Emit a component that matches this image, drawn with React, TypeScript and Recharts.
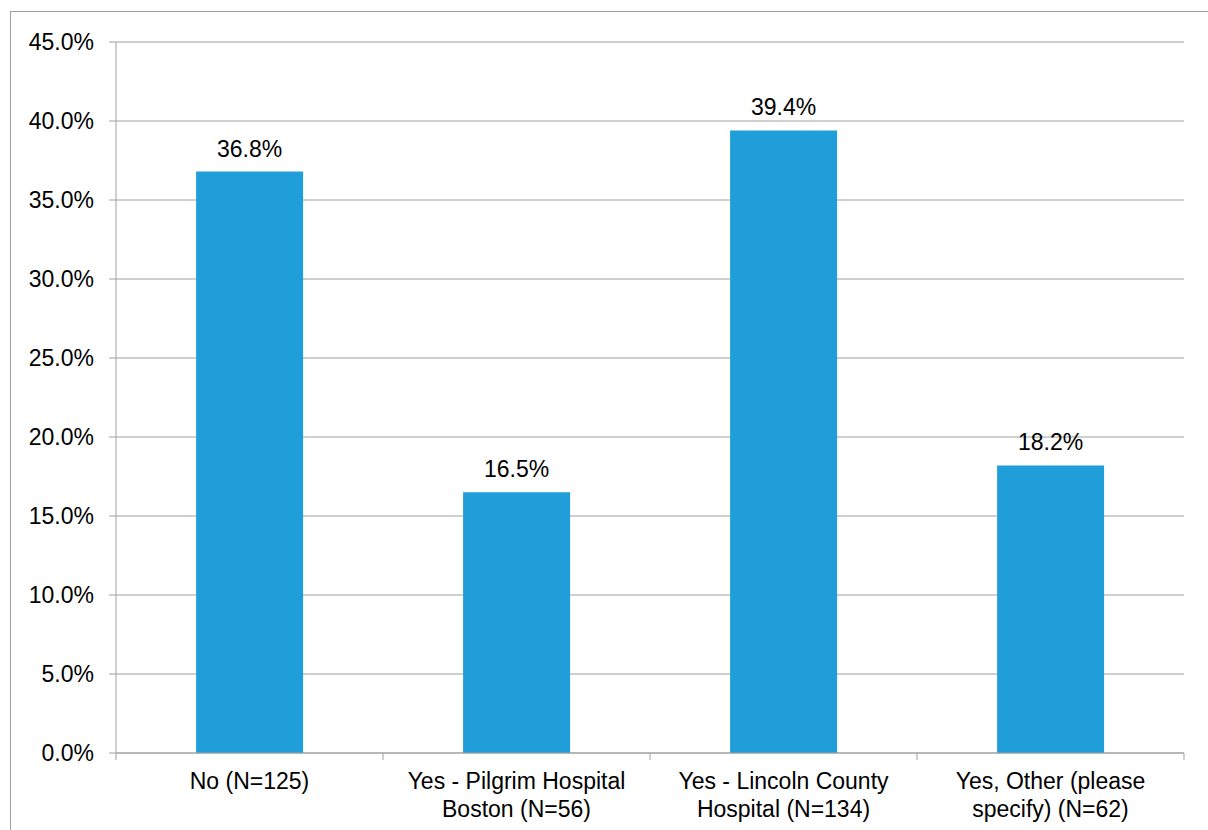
import React from 'react';
import { BarChart, Bar, XAxis, YAxis, CartesianGrid, LabelList } from 'recharts';

const categories = [
  'No (N=125)',
  'Yes - Pilgrim Hospital\nBoston (N=56)',
  'Yes - Lincoln County\nHospital (N=134)',
  'Yes, Other (please\nspecify) (N=62)',
];
const values = [36.8, 16.5, 39.4, 18.2];
const yTicks = [0, 5, 10, 15, 20, 25, 30, 35, 40, 45];

const data = categories.map((c, i) => ({ name: c, value: values[i] }));

const AXIS = '#a0a0a0';
const BAR = '#1f9ed9';
const FONT = '"Liberation Sans", Arial, sans-serif';

const CategoryTick = (props: any) => {
  const { x, y, payload, index } = props;
  const half =
    payload && typeof payload.offset === 'number' && payload.offset > 0 ? payload.offset : 133.5;
  const lines = String(payload.value).split('\n');
  const axisY = y - 7;
  return (
    <g>
      <line x1={x - half} x2={x - half} y1={axisY} y2={axisY + 7} stroke={AXIS} strokeWidth={1} />
      {index === categories.length - 1 && (
        <line x1={x + half} x2={x + half} y1={axisY} y2={axisY + 7} stroke={AXIS} strokeWidth={1} />
      )}
      <text x={x} textAnchor="middle" fontSize={23} fill="#000" fontFamily={FONT}>
        {lines.map((l, i) => (
          <tspan key={i} x={x} y={axisY + 36 + i * 28}>
            {l}
          </tspan>
        ))}
      </text>
    </g>
  );
};

export default function App() {
  return (
    <div style={{ position: 'relative', width: 1208, height: 830, overflow: 'hidden', fontFamily: FONT }}>
      <style>{'body{margin:0;overflow:hidden}'}</style>
      <div
        style={{
          position: 'absolute',
          left: 10,
          top: 11,
          width: 1300,
          height: 900,
          borderTop: `1px solid ${AXIS}`,
          borderLeft: `1px solid ${AXIS}`,
          boxSizing: 'border-box',
        }}
      />
      <div style={{ position: 'absolute', left: 0, top: 0 }}>
        <BarChart
          width={1208}
          height={830}
          data={data}
          margin={{ top: 42, right: 24, left: 0, bottom: 17 }}
          barCategoryGap="30%"
          style={{ fontFamily: FONT }}
        >
          <CartesianGrid vertical={false} stroke={AXIS} strokeWidth={1} />
          <XAxis
            dataKey="name"
            height={60}
            axisLine={{ stroke: AXIS, strokeWidth: 1 }}
            tickLine={false}
            tickSize={7}
            tickMargin={0}
            interval={0}
            tick={<CategoryTick />}
          />
          <YAxis
            width={116}
            domain={[0, 45]}
            ticks={yTicks}
            interval={0}
            tickFormatter={(v: number) => v.toFixed(1) + '%'}
            axisLine={{ stroke: AXIS, strokeWidth: 1 }}
            tickLine={{ stroke: AXIS, strokeWidth: 1 }}
            tickSize={7}
            tickMargin={15}
            tick={{ fill: '#000', fontSize: 23, fontFamily: FONT }}
          />
          <Bar dataKey="value" fill={BAR} isAnimationActive={false}>
            <LabelList
              dataKey="value"
              position="top"
              offset={15}
              formatter={(v: any) => Number(v).toFixed(1) + '%'}
              style={{ fill: '#000', fontSize: 23, fontFamily: FONT }}
            />
          </Bar>
        </BarChart>
      </div>
    </div>
  );
}
